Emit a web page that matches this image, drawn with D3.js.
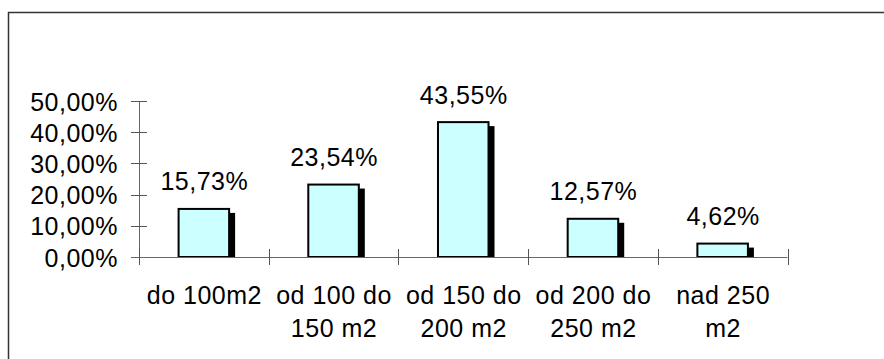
<!DOCTYPE html>
<html>
<head>
<meta charset="utf-8">
<script src="https://cdn.jsdelivr.net/npm/d3@7"></script>
<style>
  html, body { margin: 0; padding: 0; background: #fff; }
  svg { display: block; }
  text { font-family: "Liberation Sans", Arial, sans-serif; font-size: 25px; letter-spacing: 0.5px; fill: #000; }
</style>
</head>
<body>
<svg id="chart" width="884" height="359"></svg>
<script>
// Share of dwellings by floor area
const categories = [
  ["do 100m2"],
  ["od 100 do", "150 m2"],
  ["od 150 do", "200 m2"],
  ["od 200 do", "250 m2"],
  ["nad 250", "m2"]
];
const values = [15.73, 23.54, 43.55, 12.57, 4.62];
const valueLabels = ["15,73%", "23,54%", "43,55%", "12,57%", "4,62%"];
const yTicks = [0, 10, 20, 30, 40, 50];
const yTickLabels = ["0,00%", "10,00%", "20,00%", "30,00%", "40,00%", "50,00%"];

const svg = d3.select("#chart");

// outer chart frame
svg.append("rect")
  .attr("x", 8.5).attr("y", 12.5)
  .attr("width", 1000).attr("height", 500)
  .attr("fill", "none").attr("stroke", "#333").attr("stroke-width", 1.5);

const x = d3.scaleBand()
  .domain(d3.range(categories.length))
  .range([139, 787.5])
  .padding(0);

const y = d3.scaleLinear().domain([0, 50]).range([257, 101]);

const barW = x.bandwidth() * 0.405;
const shadow = 5;

const g = svg.append("g");

// drop shadows
g.selectAll("rect.shadow")
  .data(values)
  .join("rect")
  .attr("class", "shadow")
  .attr("x", (d, i) => x(i) + x.bandwidth() / 2 - barW / 2 + shadow)
  .attr("y", d => y(d) + shadow)
  .attr("width", barW)
  .attr("height", d => Math.max(0, y(0) - y(d) - shadow))
  .attr("fill", "#000");

// bars
g.selectAll("rect.bar")
  .data(values)
  .join("rect")
  .attr("class", "bar")
  .attr("x", (d, i) => x(i) + x.bandwidth() / 2 - barW / 2 + 1)
  .attr("y", d => y(d) + 1)
  .attr("width", barW - 2)
  .attr("height", d => y(0) - y(d) - 1)
  .attr("fill", "#CCFFFF")
  .attr("stroke", "#000")
  .attr("stroke-width", 2);

// value labels
g.selectAll("text.val")
  .data(values)
  .join("text")
  .attr("class", "val")
  .attr("x", (d, i) => x(i) + x.bandwidth() / 2 + 0.5)
  .attr("y", d => y(d) - 17.5)
  .attr("text-anchor", "middle")
  .text((d, i) => valueLabels[i]);

// y axis
const yAxis = svg.append("g");
yAxis.append("line")
  .attr("x1", 139.5).attr("x2", 139.5)
  .attr("y1", y(50)).attr("y2", y(0) + 8)
  .attr("stroke", "#666");
yAxis.selectAll("line.tick")
  .data(yTicks)
  .join("line")
  .attr("class", "tick")
  .attr("x1", 131).attr("x2", 147)
  .attr("y1", d => Math.round(y(d)) + 0.5)
  .attr("y2", d => Math.round(y(d)) + 0.5)
  .attr("stroke", "#555");
yAxis.selectAll("text")
  .data(yTicks)
  .join("text")
  .attr("x", 118)
  .attr("y", d => y(d) + 9.5)
  .attr("text-anchor", "end")
  .text((d, i) => yTickLabels[i]);

// x axis
const xAxis = svg.append("g");
xAxis.append("line")
  .attr("x1", 131).attr("x2", 787.5)
  .attr("y1", y(0) + 0.5).attr("y2", y(0) + 0.5)
  .attr("stroke", "#666");
xAxis.selectAll("line.tick")
  .data(d3.range(categories.length + 1))
  .join("line")
  .attr("class", "tick")
  .attr("x1", i => Math.round(139 + i * x.step()) + 0.5)
  .attr("x2", i => Math.round(139 + i * x.step()) + 0.5)
  .attr("y1", 249).attr("y2", 265)
  .attr("stroke", "#555");

const cat = xAxis.selectAll("text")
  .data(categories)
  .join("text")
  .attr("text-anchor", "middle")
  .attr("y", 304);
cat.selectAll("tspan")
  .data((d, i) => d.map(line => ({ line, i })))
  .join("tspan")
  .attr("x", d => x(d.i) + x.bandwidth() / 2 + 0.5)
  .attr("dy", (d, j) => j === 0 ? 0 : 33)
  .text(d => d.line);
</script>
</body>
</html>
